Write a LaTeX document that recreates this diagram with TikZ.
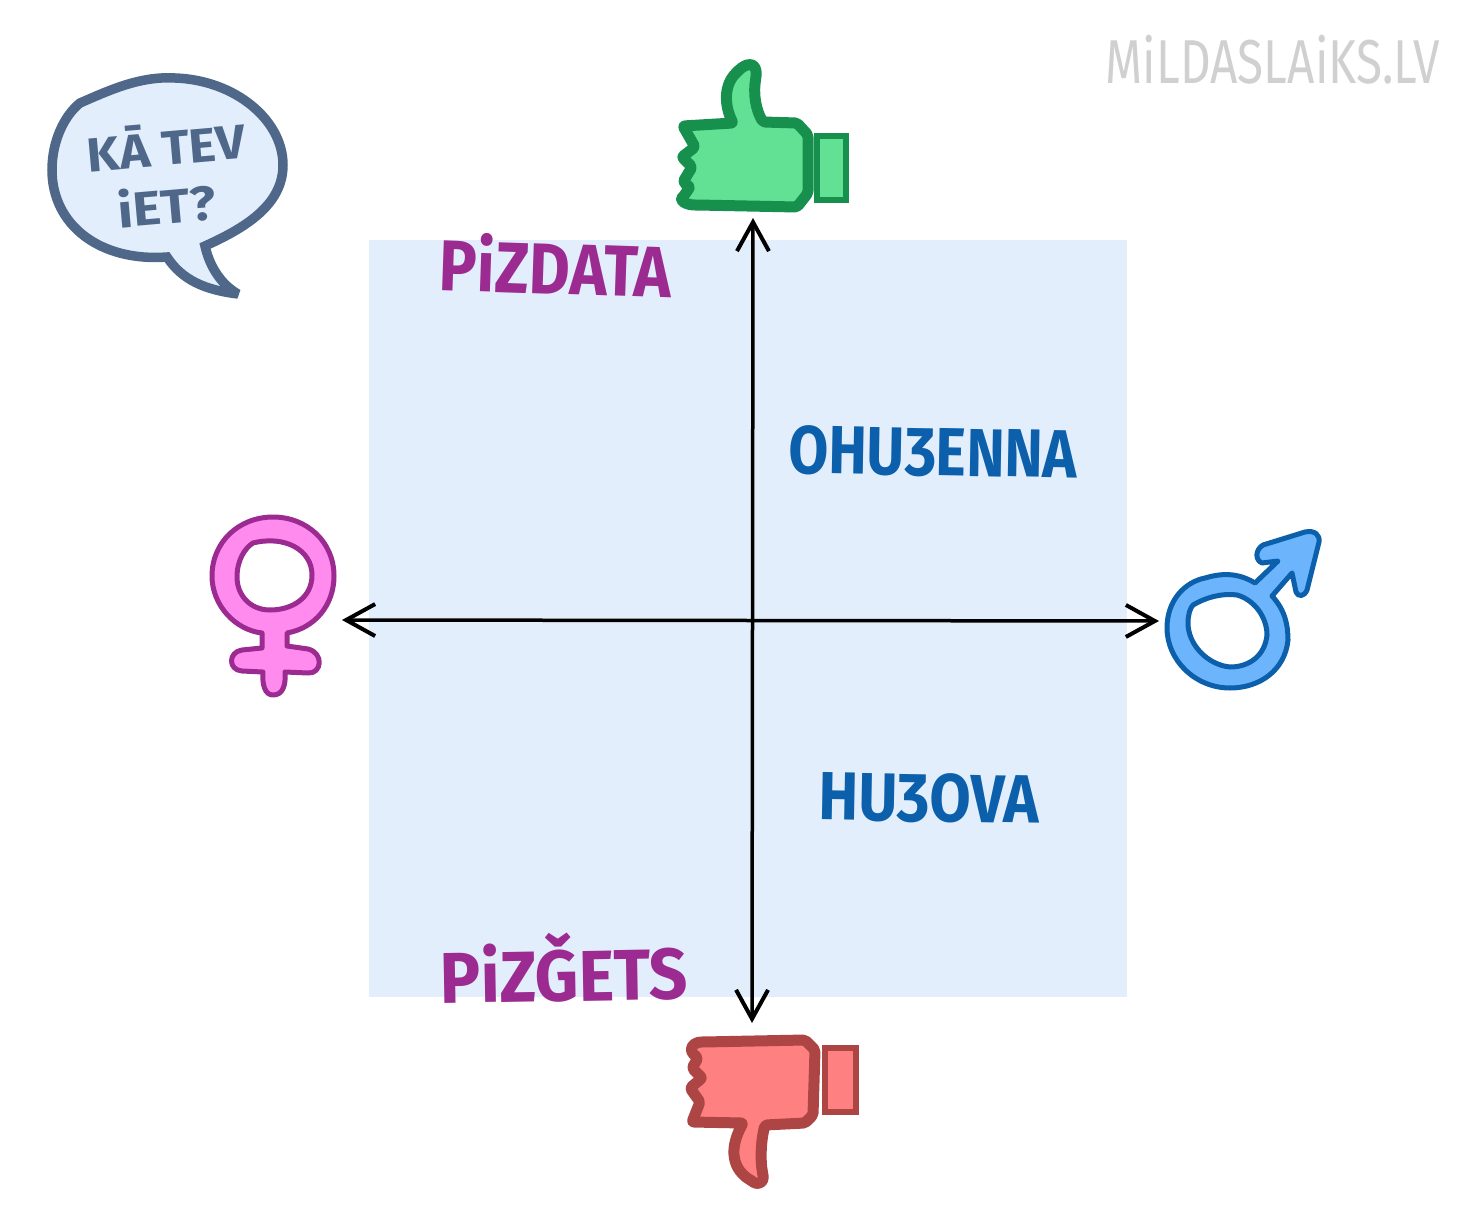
\documentclass[tikz,border=0pt]{standalone}
\usepackage{fontspec}
\setmainfont{Fira Sans}
\usetikzlibrary{arrows.meta}
\definecolor{paleblue}{HTML}{E2EEFB}
\definecolor{bubbleline}{HTML}{4F6789}
\definecolor{upline}{HTML}{17904E}
\definecolor{upfill}{HTML}{62E093}
\definecolor{downline}{HTML}{AD4545}
\definecolor{downfill}{HTML}{FF8080}
\definecolor{venusline}{HTML}{9B2A91}
\definecolor{venusfill}{HTML}{FF8BEE}
\definecolor{marsline}{HTML}{0B5FAB}
\definecolor{marsfill}{HTML}{6CB5FD}
\definecolor{watermark}{HTML}{D0D0D0}
\tikzset{
	axis/.style={line width=3.5pt,draw=black,arrows={Straight Barb[length=29pt,width=32pt,line width=4pt]-Straight Barb[length=29pt,width=32pt,line width=4pt]}},
	word/.style={inner sep=0pt,font=\fontsize{#1}{#1}\selectfont\bfseries},
	purpleword/.style={word=72,text=venusline},
	blueword/.style={word=68,text=marsline},
	bubbleword/.style={word=48,text=bubbleline},
	thumb/.style={line width=11pt,line join=round,rounded corners=2pt},
	cuff/.style={line width=5.5pt,line join=miter},
	gender/.style={line width=5pt,line join=round,even odd rule}
}
\begin{document}
\begin{tikzpicture}[x=1pt,y=-1pt]
	\useasboundingbox (0,0) rectangle (1479,1214);
	\fill[paleblue] (369,240) rectangle (1127,997);

	% axes
	\coordinate (west) at (342,620);
	\coordinate (east) at (1159,621);
	\coordinate (north) at (753,218);
	\coordinate (south) at (752,1023);
	\draw[axis] (west) -- (east);
	\draw[axis] (north) -- (south);

	% speech bubble
	\draw[bubbleline,fill=paleblue,line width=9.5pt,line join=miter,miter limit=3]
		(80,103) .. controls (110,90) and (140,76) .. (175,78)
		.. controls (235,80) and (283,120) .. (283,165)
		.. controls (283,205) and (245,228) .. (205,246)
		.. controls (210,268) and (222,285) .. (238,294)
		.. controls (205,290) and (182,280) .. (167,257)
		.. controls (100,262) and (52,225) .. (52,170)
		.. controls (52,140) and (65,115) .. (80,103) -- cycle;
	\node[bubbleword,rotate=5,xscale=1.07] (howareyou) at (166,144) {KĀ TEV};
	\node[bubbleword,rotate=5,xscale=1.12] (going) at (167,205) {iET?};

	% thumb up
	\draw[thumb,draw=upline,fill=upfill]
		(683,126) -- (733,123) .. controls (724,105) and (724,85) .. (737,72)
		.. controls (747,62) and (757,62) .. (756,77)
		.. controls (753,95) and (756,110) .. (763,122)
		-- (797,123) -- (808,135) -- (808,193) -- (797,207) -- (697,205)
		.. controls (685,205) and (680,200) .. (683,197)
		-- (690,187) -- (683,182) -- (692,167) -- (682,157) -- (695,147) -- cycle;
	\draw[cuff,draw=upline,fill=upfill] (817,136) rectangle (846,200);

	% thumb down
	\draw[thumb,draw=downline,fill=downfill]
		(692,1053) .. controls (690,1045) and (697,1042) .. (703,1042)
		-- (805,1040) -- (815,1050) -- (813,1115) -- (805,1123) -- (765,1125)
		.. controls (761,1140) and (760,1160) .. (763,1175)
		.. controls (764,1183) and (757,1185) .. (752,1181)
		.. controls (733,1170) and (728,1150) .. (743,1123)
		-- (692,1122) -- (700,1102) -- (690,1088) -- (702,1078) -- (692,1068) -- (698,1058) -- cycle;
	\draw[cuff,draw=downline,fill=downfill] (825,1048) rectangle (856,1112);

	% venus
	\draw[gender,draw=venusline,fill=venusfill]
		(287,633) .. controls (315,628) and (334,605) .. (334,576)
		.. controls (334,542) and (307,517) .. (273,517)
		.. controls (239,517) and (212,542) .. (212,576)
		.. controls (212,605) and (235,630) .. (262,633)
		-- (262,648) -- (242,650) .. controls (228,652) and (228,670) .. (242,671)
		-- (263,672) .. controls (262,685) and (265,695) .. (273,695)
		.. controls (283,695) and (286,685) .. (285,672)
		-- (308,673) .. controls (322,674) and (324,653) .. (308,649)
		-- (287,646) -- cycle
		(253,543) .. controls (285,535) and (312,550) .. (312,575)
		.. controls (312,598) and (292,610) .. (270,610)
		.. controls (250,610) and (237,595) .. (237,577)
		.. controls (237,560) and (245,548) .. (253,543) -- cycle;

	% mars
	\draw[gender,draw=marsline,fill=marsfill]
		(1255,583) -- (1278,561) -- (1262,563)
		.. controls (1255,560) and (1255,550) .. (1263,545)
		-- (1305,532) .. controls (1315,530) and (1320,535) .. (1319,542)
		-- (1307,590) .. controls (1304,597) and (1298,597) .. (1296,592)
		-- (1292,573) -- (1272,596)
		.. controls (1285,610) and (1288,625) .. (1288,640)
		.. controls (1285,670) and (1260,688) .. (1230,688)
		.. controls (1195,688) and (1167,660) .. (1167,628)
		.. controls (1167,600) and (1185,582) .. (1205,578)
		.. controls (1225,572) and (1240,574) .. (1255,583) -- cycle
		(1193,605) .. controls (1205,598) and (1220,593) .. (1237,595)
		.. controls (1255,600) and (1267,618) .. (1267,635)
		.. controls (1265,655) and (1250,667) .. (1230,667)
		.. controls (1208,665) and (1188,645) .. (1188,623)
		.. controls (1188,615) and (1190,608) .. (1193,605) -- cycle;

	% words
	\node[purpleword,rotate=-2,xscale=0.875] (great) at (556,265) {PiZDATA};
	\node[purpleword,rotate=1,xscale=0.94] (shitty) at (564,968) {PiZǦETS};
	\node[blueword,rotate=-1,xscale=0.85] (awesome) at (933,452) {OHUƷENNA};
	\node[blueword,rotate=-1,xscale=0.88] (lousy) at (929,798) {HUƷOVA};
	\node[inner sep=0pt,text=watermark,font=\fontsize{62}{62}\selectfont,xscale=0.77] (site) at (1273,60) {MiLDASLAiKS.LV};
\end{tikzpicture}
\end{document}
